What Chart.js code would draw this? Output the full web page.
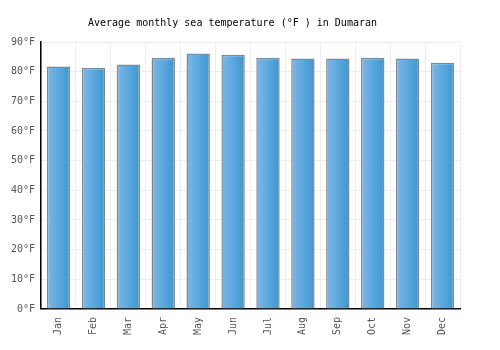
<!DOCTYPE html>
<html>
<head>
<meta charset="utf-8">
<script src="https://cdn.jsdelivr.net/npm/chart.js@4"></script>
<style>
  html, body { margin: 0; padding: 0; background: #fff; }
</style>
</head>
<body>
<canvas id="grafico" width="500" height="350"></canvas>
<script>
const meses = ["Jan", "Feb", "Mar", "Apr", "May", "Jun", "Jul", "Aug", "Sep", "Oct", "Nov", "Dec"];
const temperaturas = [81.7, 81.2, 82.4, 84.7, 86.1, 85.7, 84.7, 84.4, 84.4, 84.7, 84.4, 83.0];
const tituloGrafico = "Average monthly sea temperature (°F ) in Dumaran";

const larguraBarra = 0.67;

// degradê da esquerda (claro) para a direita (escuro) em cada barra
function corBarra(context) {
  const chart = context.chart;
  const x = chart.scales.x;
  if (!chart.chartArea || !x || context.dataIndex === undefined) return '#5aa8de';
  const centro = x.getPixelForValue(context.dataIndex);
  const meia = (x.width / meses.length) * larguraBarra / 2;
  const g = chart.ctx.createLinearGradient(centro - meia, 0, centro + meia, 0);
  g.addColorStop(0, '#7db8ea');
  g.addColorStop(1, '#3a98d0');
  return g;
}

const fonte = { family: "'DejaVu Sans Mono', monospace", size: 10 };

new Chart(document.getElementById("grafico"), {
  type: 'bar',
  data: {
    labels: meses,
    datasets: [{
      data: temperaturas,
      backgroundColor: corBarra,
      borderColor: '#888888',
      borderWidth: 1.5,
      barPercentage: larguraBarra,
      categoryPercentage: 1
    }]
  },
  options: {
    responsive: false,
    animation: false,
    layout: { padding: { left: 5, right: 40, top: 9, bottom: 7 } },
    plugins: {
      legend: { display: false },
      tooltip: { enabled: false },
      title: {
        display: true,
        text: tituloGrafico,
        color: '#000',
        font: { family: "'DejaVu Sans Mono', monospace", size: 10, weight: 'normal' },
        padding: { top: 8, bottom: 13 }
      }
    },
    scales: {
      x: {
        grid: { color: '#eeeeee', offset: true, drawTicks: false },
        border: { color: '#000', width: 1.5 },
        ticks: { color: '#555', font: fonte, minRotation: 90, maxRotation: 90, padding: 8 }
      },
      y: {
        min: 0, max: 90,
        grid: { color: '#eeeeee', drawTicks: false },
        border: { color: '#000', width: 1.5 },
        ticks: { stepSize: 10, color: '#555', font: fonte, padding: 6,
          callback: v => v + '°F' }
      }
    }
  }
});
</script>
</body>
</html>
